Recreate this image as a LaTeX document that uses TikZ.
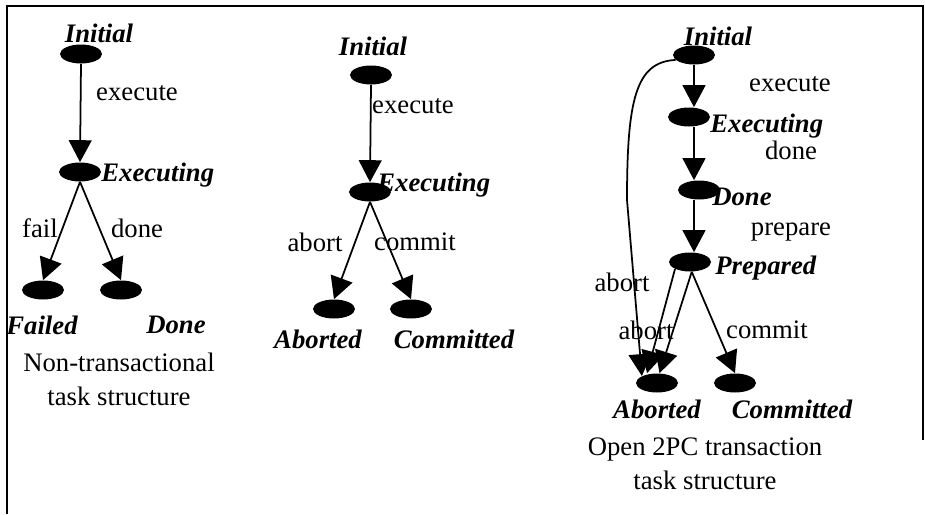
\documentclass[tikz,border=0pt]{standalone}
\usepackage{fontspec}
\setmainfont{Liberation Serif}
\usetikzlibrary{positioning,arrows.meta,shapes.geometric}

\newcommand{\figfont}{\fontsize{15.2}{19.3}\selectfont}

\tikzset{
  state/.style={ellipse, fill=black, minimum width=0.84cm, minimum height=0.38cm, inner sep=0pt},
  statename/.style={font=\figfont\bfseries\itshape, inner sep=0pt},
  evt/.style={font=\figfont, inner sep=0pt},
  arr/.style={-{Triangle[width=13pt,length=12.5pt]}, line width=1pt}
}

\begin{document}
\begin{tikzpicture}[x=0.02cm, y=-0.02cm]
\useasboundingbox (0,0) rectangle (925,514);
\draw[line width=1.1pt] (7,514) -- (7,6) -- (923,6) -- (923,440);

% non-transactional task
\node[state] (ini1) at (81,54) {};
\node[state] (exe1) at (80,172) {};
\node[state] (fai1) at (43,290) {};
\node[state] (don1) at (121,290) {};
\node[statename] (l-ini1) at (99,33) {Initial};
\node[statename, anchor=west] (l-exe1) at (101,175) {Executing};
\node[statename] (l-fai1) at (42,325) {Failed};
\node[statename] (l-don1) at (176,325) {Done};
\node[evt] (e-exe1) at (137,93) {execute};
\node[evt] (e-fai1) at (40,228) {fail};
\node[evt] (e-don1) at (137,228) {done};
\node[evt, align=center] (cap1) at (119,379) {Non-transactional\\task structure};
\draw[arr] (ini1.south) -- (exe1.north);
\draw[arr] (exe1.south) -- (fai1.north);
\draw[arr] (exe1.south) -- (don1.north);

% transactional task
\node[state] (ini2) at (371,75) {};
\node[state] (exe2) at (370,192) {};
\node[state] (abo2) at (334,309) {};
\node[state] (com2) at (411,309) {};
\node[statename] (l-ini2) at (373,46) {Initial};
\node[statename, anchor=west] (l-exe2) at (377,185) {Executing};
\node[statename] (l-abo2) at (318,339) {Aborted};
\node[statename] (l-com2) at (454,339) {Committed};
\node[evt] (e-exe2) at (413,106) {execute};
\node[evt] (e-abo2) at (315,242) {abort};
\node[evt] (e-com2) at (415,242) {commit};
\draw[arr] (ini2.south) -- (exe2.north);
\draw[arr] (exe2.south) -- (abo2.north);
\draw[arr] (exe2.south) -- (com2.north);

% open 2PC transaction
\node[state] (ini3) at (694,55) {};
\node[state] (exe3) at (689,117) {};
\node[state] (don3) at (699,190) {};
\node[state] (pre3) at (690,262) {};
\node[state] (abo3) at (657,383) {};
\node[state] (com3) at (735,383) {};
\node[statename] (l-ini3) at (718,36) {Initial};
\node[statename, anchor=west] (l-exe3) at (710,126) {Executing};
\node[statename, anchor=west] (l-don3) at (712,197) {Done};
\node[statename, anchor=west] (l-pre3) at (715,268) {Prepared};
\node[statename] (l-abo3) at (657,409) {Aborted};
\node[statename] (l-com3) at (792,409) {Committed};
\node[evt] (e-exe3) at (790,84) {execute};
\node[evt] (e-don3) at (791,150) {done};
\node[evt] (e-pre3) at (791,232) {prepare};
\node[evt] (e-abo3a) at (622,282) {abort};
\node[evt] (e-abo3b) at (646,330) {abort};
\node[evt] (e-com3) at (767,330) {commit};
\node[evt, align=center] (cap3) at (705,464) {Open 2PC transaction\\task structure};
\coordinate (bend3) at (627,200);
\draw[arr] (ini3.south) -- (ini3.south |- exe3.north);
\draw[arr] (ini3.south |- exe3.south) -- (ini3.south |- don3.north);
\draw[arr] (ini3.south |- don3.south) -- (ini3.south |- pre3.north);
\draw[arr] (ini3.195) .. controls +(-40,2) and +(0,-100) .. (bend3) -- (abo3.north west);
\draw[arr] (pre3.-155) -- ([xshift=-0.2cm]abo3.north);
\draw[arr] (pre3.-80) -- ([xshift=0.05cm]abo3.north);
\draw[arr] (pre3.-80) -- (com3.north);
\end{tikzpicture}
\end{document}
